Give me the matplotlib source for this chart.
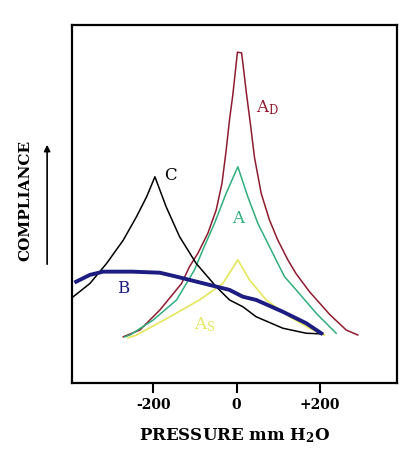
import matplotlib.pyplot as plt
from matplotlib.patches import FancyArrowPatch

# pressure (mm H2O) and compliance (arbitrary units)
ad_p = [-272, -232, -184, -132, -113, -93, -69, -49, -35, -25, -17, -9, -3, 2, 12, 18, 23, 33,
        43, 59, 79, 99, 123, 143, 175, 223, 263, 291]
ad_c = [12.9, 14.8, 20.4, 27.8, 32.5, 36.2, 41.8, 48.3, 55.8, 65.0, 73.5, 80.5, 87.0, 92.4, 92.2, 86.5, 81.5, 72.5,
        63.0, 53.0, 45.5, 39.9, 34.4, 30.5, 25.5, 19.2, 14.8, 13.4]

a_p = [-268, -256, -200, -144, -101, -81, -53, -25, 3, 27, 51, 75, 99, 115, 143, 191, 239]
a_c = [12.9, 13.4, 17.6, 23.2, 31.6, 37.2, 44.6, 53.0, 60.4, 52.0, 44.6, 39.0, 33.4, 29.7, 26.0, 19.5, 13.9]

as_p = [-261, -240, -160, -89, -33, 3, 31, 71, 127, 183, 211]
as_c = [12.6, 13.4, 18.5, 23.2, 27.8, 34.4, 28.8, 23.2, 18.5, 14.8, 13.4]

c_p = [-392, -352, -312, -272, -240, -216, -196, -169, -137, -97, -49, -17, 15, 47, 111, 167, 207]
c_c = [24.1, 27.8, 33.4, 39.9, 46.5, 52.0, 57.6, 49.2, 40.9, 33.4, 26.9, 23.2, 21.3, 18.5, 15.3, 13.9, 13.7]

b_p = [-385, -352, -320, -250, -184, -144, -65, -17, 15, 47, 111, 167, 203]
b_c = [28.3, 30.2, 31.1, 31.1, 30.8, 29.7, 27.4, 26.0, 24.1, 23.2, 19.9, 16.7, 13.9]

ticks = [-200, 0, 200]
tick_labels = ['-200', '0', '+200']

plt.rcParams['font.family'] = ['DejaVu Serif']
plt.rcParams['mathtext.fontset'] = 'dejavuserif'

fig = plt.figure(figsize=(4.17, 4.51), dpi=100)
ax = fig.add_axes([0.1727, 0.1508, 0.7793, 0.7938])

ax.plot(ad_p, ad_c, color='#8e1b2e', lw=1.1)
ax.plot(a_p, a_c, color='#2fae7c', lw=1.1)
ax.plot(as_p, as_c, color='#e6e65c', lw=1.2)
ax.plot(c_p, c_c, color='black', lw=1.1)
ax.plot(b_p, b_c, color='#1c1c82', lw=2.8)

ax.text(-158, 58, 'C', color='black', fontsize=12, ha='center', va='center')
ax.text(-272, 26.4, 'B', color='#1c1c82', fontsize=12, ha='center', va='center')
ax.text(3, 46, 'A', color='#2fae7c', fontsize=12, ha='center', va='center')
ax.text(75, 77, r'A$_\mathregular{D}$', color='#8e1b2e', fontsize=12, ha='center', va='center')
ax.text(-77, 16.2, r'A$_\mathregular{S}$', color='#e6e65c', fontsize=12, ha='center', va='center')

ax.set_xlim(-395, 385)
ax.set_ylim(0, 100)
ax.set_xticks(ticks)
ax.set_xticklabels(tick_labels, fontsize=10, fontweight='bold')
ax.set_yticks([])
ax.tick_params(axis='x', direction='out', length=7, width=1.5, pad=4)
for s in ax.spines.values():
    s.set_linewidth(1.6)

fig.text(0.562, 0.035, r'PRESSURE mm H$_\mathregular{2}$O', fontsize=12, fontweight='bold',
         ha='center', va='center')
fig.text(0.06, 0.555, 'COMPLIANCE', fontsize=11, fontweight='bold', rotation=90,
         ha='center', va='center')
fig.patches.append(FancyArrowPatch(
    (0.113, 1 - 267 / 451), (0.113, 1 - 142 / 451), transform=fig.transFigure,
    arrowstyle='-|>', mutation_scale=9, lw=1.2, color='black'))

fig.savefig('out.png', dpi=100)
